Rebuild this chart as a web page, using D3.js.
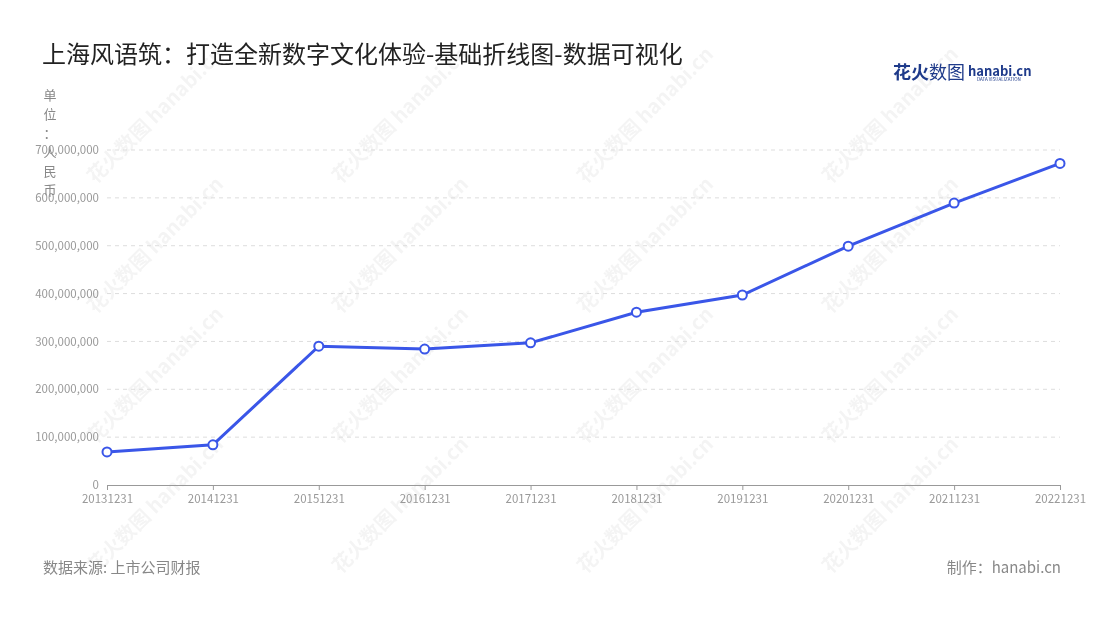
<!DOCTYPE html><html><head><meta charset="utf-8"><script src="https://cdn.jsdelivr.net/npm/d3@7"></script>
<style>body{margin:0;background:#fff;font-family:"Noto Sans CJK SC","Noto Sans",sans-serif}</style></head><body><svg id="c" width="1100" height="620"></svg><script>
const categories=["20131231","20141231","20151231","20161231","20171231","20181231","20191231","20201231","20211231","20221231"];
const values=[69e6,84e6,290e6,284e6,297e6,361e6,397e6,499e6,589e6,672e6];
const yTicks=[0,1e8,2e8,3e8,4e8,5e8,6e8,7e8];
const svg=d3.select("#c");
const x=d3.scalePoint().domain(categories).range([107,1060]);
const y=d3.scaleLinear().domain([0,7e8]).range([485,150]);
const F='"Noto Sans CJK SC",sans-serif';
const wm=svg.append("g").attr("opacity",0.045);
for(let i=0;i<4;i++)for(let j=0;j<4;j++){
 const g=wm.append("g").attr("transform",`translate(${160+i*245},${120+j*130}) rotate(-45)`);
 g.append("text").text("花火数图 hanabi.cn").attr("font-size",20).attr("font-weight","bold").attr("fill","#000").attr("font-family",F).attr("text-anchor","middle");
}
svg.append("text").text("上海风语筑：打造全新数字文化体验-基础折线图-数据可视化").attr("x",42).attr("y",63).attr("font-size",24).attr("fill","#222").attr("font-family",F);
svg.append("text").attr("x",893).attr("y",79).attr("font-family",F).call(t=>{t.append("tspan").text("花火").attr("font-size",18).attr("font-weight","bold").attr("fill","#1e3a8a");t.append("tspan").text("数图").attr("font-size",18).attr("fill","#1e3a8a");t.append("tspan").text(" hanabi.cn").attr("font-size",13).attr("font-weight","bold").attr("fill","#1e3a8a").attr("dy",-3);});
svg.append("text").text("DATA VISUALIZATION").attr("x",977).attr("y",81).attr("font-size",4.5).attr("fill","#1e3a8a").attr("font-family",F);
svg.append("g").selectAll("line").data(yTicks.slice(1)).join("line").attr("x1",107).attr("x2",1060).attr("y1",d=>y(d)).attr("y2",d=>y(d)).attr("stroke","#ddd").attr("stroke-dasharray","4,4");
const ya=svg.append("g").attr("transform","translate(107,0)").call(d3.axisLeft(y).tickValues(yTicks).tickFormat(d3.format(",")).tickSize(0).tickPadding(8));
ya.select(".domain").remove();ya.selectAll("text").attr("fill","#999").attr("font-size",11.5).attr("font-family",F);
const xa=svg.append("g").attr("transform","translate(0,485)").call(d3.axisBottom(x).tickSize(5).tickPadding(5));
xa.select(".domain").attr("stroke","#999");xa.selectAll("line").attr("stroke","#999");xa.selectAll("text").attr("fill","#999").attr("font-size",11.5).attr("font-family",F);
svg.append("g").selectAll("text").data("单位：人民币".split("")).join("text").text(d=>d).attr("x",50).attr("y",(d,i)=>100+i*19).attr("text-anchor","middle").attr("font-size",13).attr("fill","#888").attr("font-family",F);
const line=d3.line().x((d,i)=>x(categories[i])).y(d=>y(d));
svg.append("path").attr("d",line(values)).attr("fill","none").attr("stroke","#3a56e8").attr("stroke-width",3);
svg.append("g").selectAll("circle").data(values).join("circle").attr("cx",(d,i)=>x(categories[i])).attr("cy",d=>y(d)).attr("r",4.5).attr("fill","#fff").attr("stroke","#3a56e8").attr("stroke-width",2);
svg.append("text").text("数据来源: 上市公司财报").attr("x",43).attr("y",573).attr("font-size",15).attr("fill","#888").attr("font-family",F);
svg.append("text").text("制作：hanabi.cn").attr("x",1061).attr("y",573).attr("text-anchor","end").attr("font-size",15).attr("fill","#888").attr("font-family",F);
</script></body></html>
